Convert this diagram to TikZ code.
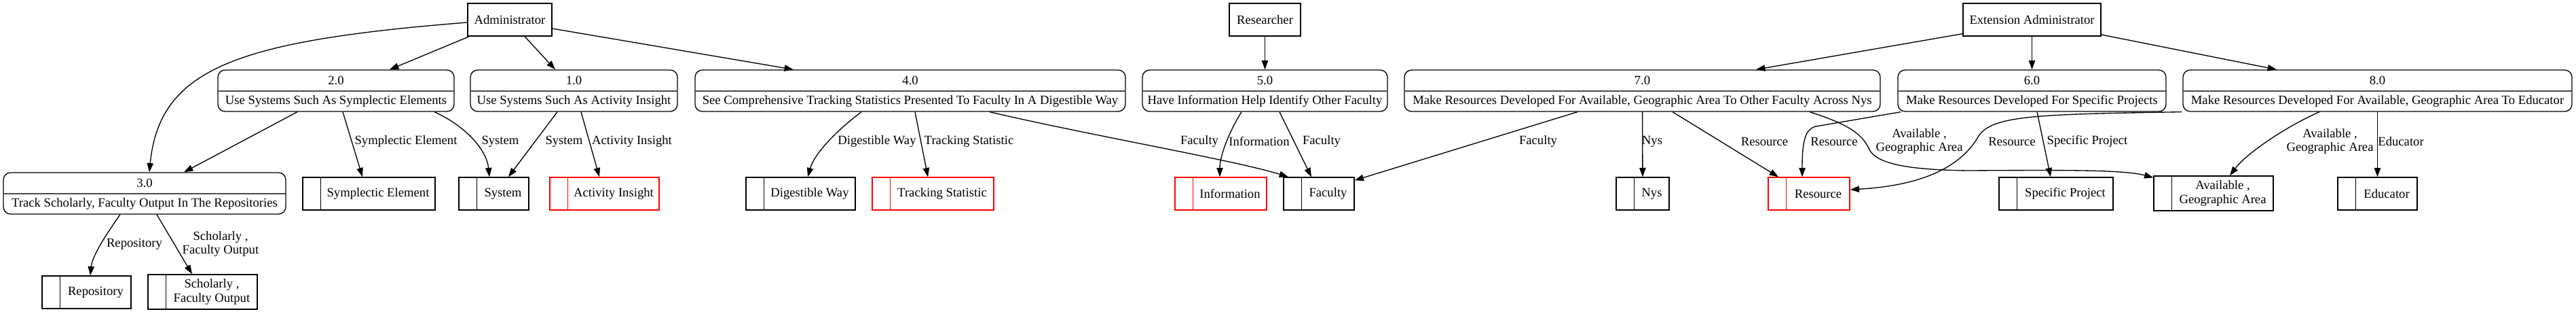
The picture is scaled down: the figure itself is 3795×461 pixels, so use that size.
\documentclass[tikz,border=0pt]{standalone}
\usepackage{fontspec}
\setmainfont{Liberation Serif}
\usetikzlibrary{arrows.meta,calc}
\tikzset{
  every node/.style={font=\fontsize{14pt}{15.5pt}\selectfont},
  extbox/.style={draw, line width=1pt, minimum height=36pt, inner sep=0pt},
  procbox/.style={draw, line width=1pt, rounded corners=8pt, minimum height=45.75pt, inner sep=0pt},
  storebox/.style={line width=1pt, inner sep=0pt},
  divider/.style={line width=1.5pt, black!70},
  flow/.style={line width=1pt, -{Triangle[length=10pt,width=7pt]}},
  lbl/.style={align=center, inner sep=0pt},
}
\newcommand\procnode[6]{% name, cx, cy, width, number, text
  \node[procbox, minimum width=#4*0.75pt] (#1) at (#2,#3) {};
  \draw[divider] (#1.west) -- (#1.east);
  \node[lbl] (#1n) at (#2,#3-15) {#5};
  \node[lbl] (#1d) at (#2,#3+15.5) {#6};
}
\newcommand\storenode[7]{% name, cx, cy, w, h, color, text
  \node[storebox, draw=#6, minimum width=#4*0.75pt, minimum height=#5*0.75pt] (#1) at (#2,#3) {};
  \draw[line width=1pt, #6] ($(#1.north west)+(27,0)$) -- ($(#1.south west)+(27,0)$);
  \node[lbl] (#1t) at ($(#1.center)+(13.5,0)$) {#7};
}
\begin{document}
\begin{tikzpicture}[x=0.75pt, y=-0.75pt]
\useasboundingbox (0,0) rectangle (3795,461);

% external entities
\node[extbox, minimum width=124*0.75pt] (adm) at (751,29) {Administrator};
\node[extbox, minimum width=105*0.75pt] (res) at (1863.5,29) {Researcher};
\node[extbox, minimum width=203*0.75pt] (ext) at (2993.5,29) {Extension Administrator};

% processes
\procnode{p2}{495}{133.5}{348}{2.0}{Use Systems Such As Symplectic Elements}
\procnode{p1}{845.5}{133.5}{305}{1.0}{Use Systems Such As Activity Insight}
\procnode{p3}{213}{284.5}{416}{3.0}{Track Scholarly, Faculty Output In The Repositories}
\procnode{p4}{1341}{133.5}{634}{4.0}{See Comprehensive Tracking Statistics Presented To Faculty In A Digestible Way}
\procnode{p5}{1863.5}{133.5}{361}{5.0}{Have Information Help Identify Other Faculty}
\procnode{p7}{2419.5}{133.5}{701}{7.0}{Make Resources Developed For Available, Geographic Area To Other Faculty Across Nys}
\procnode{p6}{2993.5}{133.5}{395}{6.0}{Make Resources Developed For Specific Projects}
\procnode{p8}{3502.5}{133.5}{573}{8.0}{Make Resources Developed For Available, Geographic Area To Educator}

% data stores
\storenode{sSym}{543.5}{285}{195}{48}{black}{Symplectic Element}
\storenode{sSys}{727.5}{285}{103}{48}{black}{System}
\storenode{sAI}{890.5}{285}{161}{48}{red}{Activity Insight}
\storenode{sRep}{127.5}{430}{131}{48}{black}{Repository}
\storenode{sSch}{298.5}{429.5}{161}{51}{black}{Scholarly ,\\Faculty Output}
\storenode{sDW}{1179.5}{285}{161}{48}{black}{Digestible Way}
\storenode{sTS}{1374.5}{285}{179}{48}{red}{Tracking Statistic}
\storenode{sInf}{1798.5}{285}{135}{48}{red}{Information}
\storenode{sFac}{1943}{285}{104}{48}{black}{Faculty}
\storenode{sNys}{2420}{285}{78}{48}{black}{Nys}
\storenode{sRes}{2665}{285}{120}{48}{red}{Resource}
\storenode{sSP}{3029}{285}{168}{48}{black}{Specific Project}
\storenode{sAGA}{3261}{284.5}{176}{51}{black}{Available ,\\Geographic Area}
\storenode{sEdu}{3502.5}{285}{117}{48}{black}{Educator}

% flows from Administrator
\draw[flow] ($(adm.west)+(0,4)$) .. controls (350,60) and (235,100) .. ($(p3.north)+(7,0)$);
\draw[flow] ($(adm.south west)+(3,0)$) -- ($(p2.north)+(79,0)$);
\draw[flow] ($(adm.south)+(22,0)$) -- ($(p1.north)+(-27.5,0)$);
\draw[flow] ($(adm.east)+(0,13)$) -- ($(p4.north)+(-172,0)$);

% flows from 2.0
\draw[flow] ($(p2.south)+(-57,0)$) -- ($(p3.north)+(58,0)$);
\draw[flow] ($(p2.south)+(10,0)$) -- ($(sSym.north)+(-9.5,0)$);
\draw[flow] ($(p2.south)+(145,0)$) .. controls (685,185) and (717,220) .. ($(sSys.north)+(-6.5,0)$);
\node[lbl] (l1) at (598,208) {Symplectic Element};
\node[lbl] (l2) at (737,208) {System};

% flows from 1.0
\draw[flow] ($(p1.south)+(-24.5,0)$) -- ($(sSys.north)+(21.5,0)$);
\draw[flow] ($(p1.south)+(10.5,0)$) -- ($(sAI.north)+(-7.5,0)$);
\node[lbl] (l3) at (831,208) {System};
\node[lbl] (l4) at (931,208) {Activity Insight};

% flows from 3.0
\draw[flow] ($(p3.south)+(-36,0)$) .. controls (160,340) and (136,375) .. ($(sRep.north)+(5.5,0)$);
\draw[flow] ($(p3.south)+(18,0)$) -- ($(sSch.north)+(-15.5,0)$);
\node[lbl] (l5) at (198,359) {Repository};
\node[lbl] (l6) at (325,359) {Scholarly ,\\Faculty Output};

% flows from 4.0
\draw[flow] ($(p4.south)+(-72,0)$) .. controls (1235,190) and (1200,225) .. ($(sDW.north)+(10.5,0)$);
\draw[flow] ($(p4.south)+(7,0)$) -- ($(sTS.north)+(-7.5,0)$);
\draw[flow] ($(p4.south)+(117,0)$) .. controls (1600,198) and (1820,236) .. ($(sFac.north)+(-45,0)$);
\node[lbl] (l7) at (1292,208) {Digestible Way};
\node[lbl] (l8) at (1427.5,208) {Tracking Statistic};
\node[lbl] (l9) at (1767,208) {Faculty};

% flows of Researcher and 5.0
\draw[flow] (res) -- (p5);
\draw[flow] ($(p5.south)+(-34.5,0)$) .. controls (1810,195) and (1797,230) .. ($(sInf.north)+(-1.5,0)$);
\draw[flow] ($(p5.south)+(21.5,0)$) -- ($(sFac.north)+(-11,0)$);
\node[lbl] (l10) at (1855,208) {Information};
\node[lbl] (l11) at (1947,208) {Faculty};

% flows from Extension Administrator
\draw[flow] ($(ext.south west)+(0,-4)$) -- ($(p7.north)+(167.5,0)$);
\draw[flow] (ext) -- (p6);
\draw[flow] ($(ext.east)+(0,22)$) -- ($(p8.north)+(-148.5,0)$);

% flows from 7.0
\draw[flow] ($(p7.south)+(-95.5,0)$) -- ($(sFac.north east)+(0,5)$);
\draw[flow] (p7) -- (sNys);
\draw[flow] ($(p7.south)+(44.5,0)$) -- ($(sRes.north)+(-45,0)$);
\draw[flow] ($(p7.south)+(246.5,0)$) .. controls (2730,185) and (2745,200) .. (2755,222)
  .. controls (2770,245) and (2830,250) .. (2900,251)
  .. controls (3050,250) and (3130,250) .. ($(sAGA.north west)+(0,3)$);
\node[lbl] (l12) at (2266,208) {Faculty};
\node[lbl] (l13) at (2434,208) {Nys};
\node[lbl] (l14) at (2599.5,208) {Resource};
\node[lbl] (l15) at (2827.5,208) {Available ,\\Geographic Area};

% flows from 6.0
\draw[flow] ($(p6.south west)+(5,0)$) -- (2675,186) .. controls (2660,190) and (2655,205) .. ($(sRes.north)+(-10,0)$);
\draw[flow] ($(p6.south)+(7.5,0)$) -- ($(sSP.north)+(-8,0)$);
\node[lbl] (l16) at (2702,208) {Resource};
\node[lbl] (l17) at (3075,208) {Specific Project};

% flows from 8.0
\draw[flow] ($(p8.south west)+(-1,0)$) .. controls (3000,168) and (2935,170) .. (2915,200)
  .. controls (2895,235) and (2850,272) .. ($(sRes.east)+(0,-6)$);
\draw[flow] ($(p8.south)+(-85.5,0)$) .. controls (3370,185) and (3310,225) .. ($(sAGA.north)+(24,0)$);
\draw[flow] (p8) -- (sEdu);
\node[lbl] (l18) at (2964,208) {Resource};
\node[lbl] (l19) at (3432.5,208) {Available ,\\Geographic Area};
\node[lbl] (l20) at (3537,208) {Educator};
\end{tikzpicture}
\end{document}
